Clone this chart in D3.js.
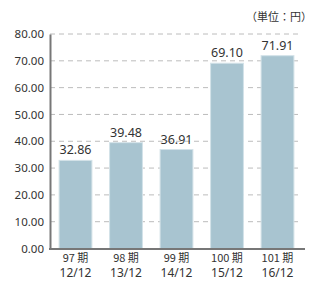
<!DOCTYPE html>
<html>
<head>
<meta charset="utf-8">
<script src="https://cdn.jsdelivr.net/npm/d3@7"></script>
<style>
    body { margin: 0; background: #fff; }
    text { font-family: "Noto Sans CJK JP", "Noto Sans", sans-serif; fill: #333; }
    .num { font-family: "Noto Sans", "Noto Sans CJK JP", sans-serif; }
</style>
</head>
<body>
<div id="chart"></div>
<script>
    // periods and fiscal years
    const periods = ["97 期", "98 期", "99 期", "100 期", "101 期"];
    const years = ["12/12", "13/12", "14/12", "15/12", "16/12"];
    const values = [32.86, 39.48, 36.91, 69.10, 71.91];
    const yTicks = [0, 10, 20, 30, 40, 50, 60, 70, 80];

    const W = 316, H = 288;
    const margin = { top: 34, right: 13, bottom: 39.5, left: 50 };
    const width = W - margin.left - margin.right,
        height = H - margin.top - margin.bottom;

    const svg = d3.select("#chart").append("svg")
        .attr("width", W)
        .attr("height", H);

    const g = svg.append("g")
        .attr("transform", "translate(" + margin.left + "," + margin.top + ")");

    const x = d3.scaleBand()
        .domain(periods)
        .range([0, width])
        .paddingInner(0.35)
        .paddingOuter(0.18);

    const y = d3.scaleLinear().domain([0, 80]).range([height, 0]);

    // dashed grid
    g.selectAll(".grid")
        .data(yTicks.slice(1))
        .enter()
        .append("line")
        .attr("x1", 0)
        .attr("x2", width - 2)
        .attr("y1", d => y(d))
        .attr("y2", d => y(d))
        .attr("stroke", "#bcbcbc")
        .attr("stroke-dasharray", "5,4");

    // bars
    g.selectAll("rect")
        .data(values)
        .enter()
        .append("rect")
        .attr("x", (d, i) => x(periods[i]))
        .attr("y", d => y(d))
        .attr("width", x.bandwidth())
        .attr("height", d => height - y(d))
        .attr("fill", "#a8c4d0")
        .attr("stroke", "#d3e2e8")
        .attr("stroke-width", 1);

    // value labels
    g.selectAll(".val")
        .data(values)
        .enter()
        .append("text")
        .attr("class", "num")
        .attr("x", (d, i) => x(periods[i]) + x.bandwidth() / 2)
        .attr("y", d => y(d) - 6)
        .attr("text-anchor", "middle")
        .style("font-size", "12.5px")
        .text(d => d.toFixed(2));

    // y axis
    const yAxis = g.append("g")
        .call(d3.axisLeft(y).tickValues(yTicks).tickSize(0).tickPadding(6).tickFormat(d3.format(".2f")));
    yAxis.select(".domain").attr("stroke", "#777").attr("stroke-width", 2);
    yAxis.selectAll("text").attr("class", "num").style("font-size", "11.5px").attr("fill", "#333");

    // x axis
    g.append("line")
        .attr("x1", -1)
        .attr("x2", width + 2)
        .attr("y1", height + 0.5)
        .attr("y2", height + 0.5)
        .attr("stroke", "#777")
        .attr("stroke-width", 2);

    g.selectAll(".xl")
        .data(periods)
        .enter()
        .append("text")
        .attr("x", d => x(d) + x.bandwidth() / 2)
        .attr("y", height + 13.5)
        .attr("text-anchor", "middle")
        .style("font-size", "11px")
        .text(d => d);

    g.selectAll(".xl2")
        .data(years)
        .enter()
        .append("text")
        .attr("class", "num")
        .attr("x", (d, i) => x(periods[i]) + x.bandwidth() / 2)
        .attr("y", height + 28)
        .attr("text-anchor", "middle")
        .style("font-size", "12px")
        .text(d => d);

    // unit
    svg.append("text")
        .attr("x", 312)
        .attr("y", 21)
        .attr("text-anchor", "end")
        .style("font-size", "11px")
        .text("（単位：円）");
</script>
</body>
</html>
